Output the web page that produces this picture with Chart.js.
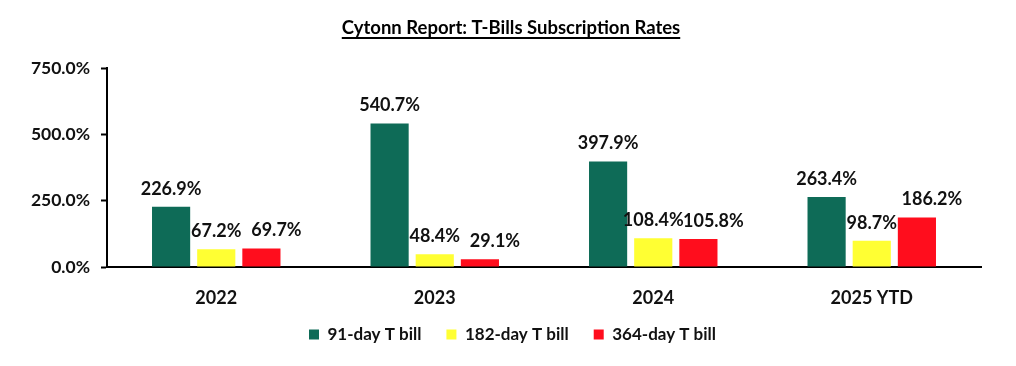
<!DOCTYPE html>
<html>
<head>
<meta charset="utf-8">
<script src="https://cdn.jsdelivr.net/npm/chart.js@4.4.1/dist/chart.umd.min.js"></script>
<style>
  html, body { margin: 0; padding: 0; background: #fff; }
  #wrap { width: 1016px; height: 366px; position: relative; }
</style>
</head>
<body>
<div id="wrap"><canvas id="chart"></canvas></div>
<script>
const categories = ['2022', '2023', '2024', '2025 YTD'];
const seriesNames = ['91-day T bill', '182-day T bill', '364-day T bill'];
const bill91 = [226.9, 540.7, 397.9, 263.4];
const bill182 = [67.2, 48.4, 108.4, 98.7];
const bill364 = [69.7, 29.1, 105.8, 186.2];
const yTicks = [0, 250, 500, 750];
const chartTitle = 'Cytonn Report: T-Bills Subscription Rates';

const FONT = 'Lato, "Open Sans", sans-serif';
const colors = ['#0E6B57', '#FFFF33', '#FF0D1D'];
// décalage horizontal des étiquettes par série (comme dans Excel)
const labelShift = [0, 0, 15];

// titre souligné
const titlePlugin = {
    id: 'underlinedTitle',
    afterDraw(chart) {
        const ctx = chart.ctx;
        ctx.save();
        ctx.font = 'bold 18.5px ' + FONT;
        ctx.fillStyle = '#000';
        ctx.textAlign = 'center';
        ctx.textBaseline = 'alphabetic';
        const x = 511, y = 34;
        ctx.fillText(chartTitle, x, y);
        const w = ctx.measureText(chartTitle).width;
        ctx.fillRect(x - w / 2, y + 3, w, 2);
        ctx.restore();
    }
};

// étiquettes de valeurs au-dessus des barres
const valueLabels = {
    id: 'valueLabels',
    afterDatasetsDraw(chart) {
        const ctx = chart.ctx;
        ctx.save();
        ctx.font = 'bold 18px ' + FONT;
        ctx.fillStyle = '#111';
        ctx.textAlign = 'center';
        ctx.textBaseline = 'bottom';
        chart.data.datasets.forEach((ds, i) => {
            chart.getDatasetMeta(i).data.forEach((bar, j) => {
                ctx.fillText(ds.data[j].toFixed(1) + '%', bar.x + labelShift[i], bar.y - 9);
            });
        });
        ctx.restore();
    }
};

// recentrer la légende et la remonter un peu
const legendShift = {
    id: 'legendShift',
    afterLayout(chart) {
        const lg = chart.legend;
        if (lg) {
            lg.left += 22;
            lg.right += 22;
            lg.top -= 11;
            lg.bottom -= 11;
        }
    }
};

new Chart(document.getElementById('chart'), {
    type: 'bar',
    data: {
        labels: categories,
        datasets: [bill91, bill182, bill364].map((d, i) => ({
            label: seriesNames[i],
            data: d,
            backgroundColor: colors[i],
            borderWidth: 0,
            categoryPercentage: 0.62,
            barPercentage: 0.845
        }))
    },
    options: {
        responsive: true,
        maintainAspectRatio: false,
        animation: false,
        layout: { padding: { top: 68, right: 35, left: 0, bottom: 2 } },
        plugins: {
            title: { display: false },
            tooltip: { enabled: false },
            legend: {
                position: 'bottom',
                labels: {
                    boxWidth: 10,
                    boxHeight: 10,
                    padding: 25,
                    color: '#111',
                    font: { family: FONT, size: 17, weight: 'bold' }
                }
            }
        },
        scales: {
            x: {
                grid: { display: false, drawTicks: false },
                border: { color: '#000', width: 2 },
                ticks: { color: '#111', padding: 20, font: { family: FONT, size: 18, weight: 'bold' } },
                afterFit(scale) { scale.height = 45; }
            },
            y: {
                min: 0,
                max: 750,
                afterBuildTicks(scale) {
                    scale.ticks = yTicks.map(v => ({ value: v }));
                },
                grid: { drawOnChartArea: false, drawTicks: true, tickLength: 6, color: '#000', tickWidth: 2 },
                border: { color: '#000', width: 2 },
                ticks: {
                    color: '#111',
                    padding: 11,
                    font: { family: FONT, size: 17.5, weight: 'bold' },
                    callback: v => v.toFixed(1) + '%'
                },
                afterFit(scale) { scale.width = 107; }
            }
        }
    },
    plugins: [titlePlugin, valueLabels, legendShift]
});
</script>
</body>
</html>
